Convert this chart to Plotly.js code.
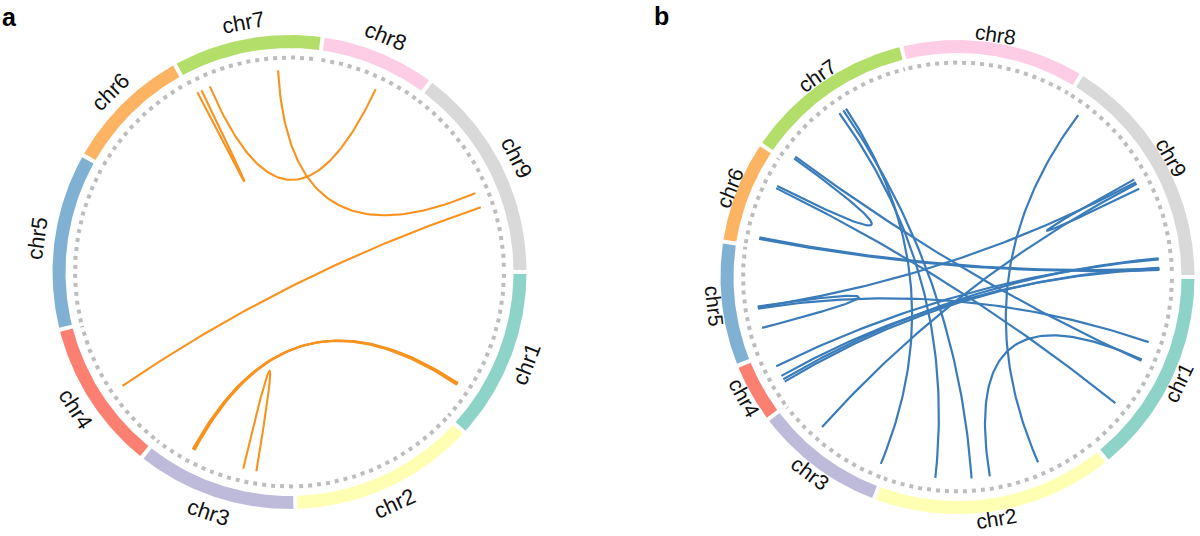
<!DOCTYPE html>
<html><head><meta charset="utf-8">
<script src="https://cdn.plot.ly/plotly-3.0.1.min.js"></script>
<style>html,body{margin:0;padding:0;background:#fff}#chart{width:1200px;height:536px}</style>
</head><body><div id="chart"></div>
<script>
// ---------------- DATA ----------------
const chromNames = ['chr1','chr2','chr3','chr4','chr5','chr6','chr7','chr8','chr9'];
// sector lengths (Mb) for panel a and panel b
const chromLenA = [41.6, 45.0, 39.0, 36.4, 42.6, 30.6, 36.0, 27.5, 52.5];
const chromLenB = [49.9, 58.7, 31.5, 13.9, 29.6, 24.4, 41.3, 44.2, 57.5];

// panel a links (chromosome, position in Mb)
const linkA_chr1 = ['chr7','chr7','chr7','chr9','chr1','chr1','chr1','chr3'];
const linkA_pos1 = [1.3, 5.2, 25.2, 34.3, 32.9, 33.2, 33.5, 14.2];
const linkA_chr2 = ['chr7','chr8','chr9','chr4','chr3','chr3','chr3','chr3'];
const linkA_pos2 = [2.6, 16.7, 30.0, 16.7, 29.0, 29.3, 29.6, 10.4];

// panel b links
const linkB_chr1 = ['chr9','chr2','chr9','chr9','chr1','chr5','chr4','chr4','chr4','chr6','chr6','chr6','chr6','chr7','chr7','chr7','chr7','chr3','chr4'];
const linkB_pos1 = [4.7, 29.4, 29.1, 30.0, 18.3, 13.1, 7.1, 6.0, 5.2, 1.8, 2.2, 17.0, 17.7, 2.1, 19.7, 21.1, 22.0, 21.0, 10.2];
const linkB_chr2 = ['chr2','chr1','chr9','chr5','chr5','chr5','chr9','chr9','chr9','chr9','chr9','chr1','chr7','chr1','chr2','chr2','chr3','chr9','chr9'];
const linkB_pos2 = [15.1, 23.6, 32.1, 12.9, 12.5, 6.9, 55.8, 52.7, 55.4, 56.0, 55.6, 38.1, 1.5, 24.0, 44.9, 34.6, 1.2, 30.5, 53.0];

// ---------------- STYLE / GEOMETRY ----------------
const COLORS = ['#8DD3C7','#FFFFB3','#BEBADA','#FB8072','#80B1D3','#FDB462','#B3DE69','#FCCDE5','#D9D9D9'];
const GAP = 1.0, START = 0.5;
const R_OUT = 237, R_IN = 224, R_DASH = 214.5, R_LINK = 202;
const W = 1200, H = 536;
const panels = [
  {lens: chromLenA, c1: linkA_chr1, p1: linkA_pos1, c2: linkA_chr2, p2: linkA_pos2,
   cx: 289.5, cy: 272, x0: 0, x1: 600, xa: 'x', ya: 'y', color: '#F7931E', lw: 2.1, rLab: 254, fs: 22},
  {lens: chromLenB, c1: linkB_chr1, p1: linkB_pos1, c2: linkB_chr2, p2: linkB_pos2,
   cx: 957.5, cy: 277, x0: 600, x1: 1200, xa: 'x2', ya: 'y2', color: '#3A7CB9', lw: 2.2, rLab: 245, fs: 21}
];

const traces = [];
const annotations = [];
const rad = d => d * Math.PI / 180;
const pt = (r, th) => [r * Math.cos(rad(th)), -r * Math.sin(rad(th))];

panels.forEach(P => {
  const total = P.lens.reduce((a, b) => a + b, 0);
  const scale = (360 - GAP * P.lens.length) / total;
  const starts = [];
  let acc = START;
  P.lens.forEach(l => { starts.push(acc); acc += l * scale + GAP; });
  const ang = (chr, pos) => starts[chromNames.indexOf(chr)] + pos * scale;

  P.lens.forEach((l, i) => {
    const a0 = starts[i], a1 = a0 + l * scale;
    const n = Math.max(20, Math.round((a1 - a0) * 2));
    const xs = [], ys = [];
    for (let k = 0; k <= n; k++) { const p = pt(R_OUT, a0 + (a1 - a0) * k / n); xs.push(p[0]); ys.push(p[1]); }
    for (let k = n; k >= 0; k--) { const p = pt(R_IN, a0 + (a1 - a0) * k / n); xs.push(p[0]); ys.push(p[1]); }
    traces.push({type: 'scatter', mode: 'lines', x: xs, y: ys, fill: 'toself', fillcolor: COLORS[i],
      line: {width: 0, color: COLORS[i]}, xaxis: P.xa, yaxis: P.ya, hoverinfo: 'skip'});
    // dashed tick track
    const dx = [], dy = [];
    for (let k = 0; k <= n; k++) { const p = pt(R_DASH, a0 + (a1 - a0) * k / n); dx.push(p[0]); dy.push(p[1]); }
    traces.push({type: 'scatter', mode: 'lines', x: dx, y: dy,
      line: {width: 4, color: '#BDBDBD', dash: '4px,5px'}, xaxis: P.xa, yaxis: P.ya, hoverinfo: 'skip'});
    // label
    const mid = (a0 + a1) / 2;
    const lp = pt(P.rLab, mid);
    let rot = mid + 90;
    while (rot > 90) rot -= 180;
    while (rot <= -90) rot += 180;
    annotations.push({x: lp[0], y: lp[1], xref: P.xa, yref: P.ya, text: chromNames[i], showarrow: false,
      textangle: rot, xanchor: 'center', yanchor: 'middle',
      font: {family: 'Liberation Sans, Arial, sans-serif', size: P.fs, color: '#111'}});
  });

  for (let j = 0; j < P.c1.length; j++) {
    const A = pt(R_LINK, ang(P.c1[j], P.p1[j]));
    const B = pt(R_LINK, ang(P.c2[j], P.p2[j]));
    const xs = [], ys = [];
    for (let k = 0; k <= 80; k++) {
      const t = k / 80, u = 1 - t;
      xs.push(u * u * A[0] + t * t * B[0]);
      ys.push(u * u * A[1] + t * t * B[1]);
    }
    traces.push({type: 'scatter', mode: 'lines', x: xs, y: ys,
      line: {width: P.lw, color: P.color, shape: 'linear'}, xaxis: P.xa, yaxis: P.ya, hoverinfo: 'skip'});
  }
});

const axX = (P, dom) => ({domain: dom, range: [P.x0 - P.cx, P.x1 - P.cx], visible: false, fixedrange: true});
const axY = P => ({domain: [0, 1], range: [-(H - P.cy), P.cy], visible: false, fixedrange: true});

annotations.push({x: 0 / W, y: 1 - 1 / H, xref: 'paper', yref: 'paper', text: '<b>a</b>', showarrow: false,
  xanchor: 'left', yanchor: 'top', font: {family: 'Liberation Sans, Arial, sans-serif', size: 25, color: '#000'}});
annotations.push({x: 652 / W, y: 1 - 0 / H, xref: 'paper', yref: 'paper', text: '<b>b</b>', showarrow: false,
  xanchor: 'left', yanchor: 'top', font: {family: 'Liberation Sans, Arial, sans-serif', size: 25, color: '#000'}});

const layout = {
  width: W, height: H, margin: {l: 0, r: 0, t: 0, b: 0}, showlegend: false,
  paper_bgcolor: '#fff', plot_bgcolor: '#fff',
  xaxis: axX(panels[0], [0, 0.5]), yaxis: axY(panels[0]),
  xaxis2: axX(panels[1], [0.5, 1]), yaxis2: axY(panels[1]),
  annotations: annotations
};
Plotly.newPlot('chart', traces, layout, {staticPlot: true, displayModeBar: false});
</script></body></html>
